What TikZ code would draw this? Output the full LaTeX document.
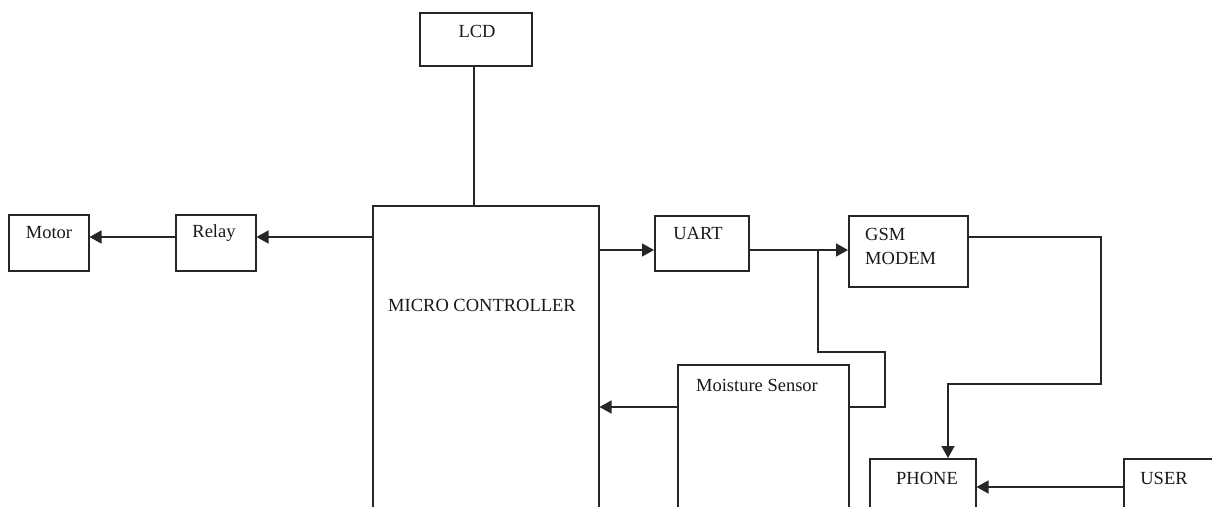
\documentclass[tikz,border=0pt]{standalone}
\usepackage{fontspec}
\setmainfont{Liberation Serif}
\usetikzlibrary{arrows.meta}
\begin{document}
\begin{tikzpicture}[x=1pt,y=-1pt,
  box/.style={draw=black!85, line width=1.5pt, rectangle, inner sep=0pt, anchor=north west},
  lbl/.style={inner sep=0pt, font=\fontsize{18.5}{21}\selectfont, text=black!90},
  wire/.style={draw=black!85, line width=1.4pt},
  arr/.style={wire, -{Triangle[length=12pt,width=13pt]}}]
\useasboundingbox (0,0) rectangle (1212,506);
\clip (0,0) rectangle (1212,506);
\fill[white] (0,0) rectangle (1212,506);
% boxes
\node[box, minimum width=112pt, minimum height=53pt] (lcd) at (419,12) {};
\node[box, minimum width=226pt, minimum height=320pt] (mc) at (372,205) {};
\node[box, minimum width=80pt, minimum height=56pt] (relay) at (175,214) {};
\node[box, minimum width=80pt, minimum height=56pt] (motor) at (8,214) {};
\node[box, minimum width=94pt, minimum height=55pt] (uart) at (654,215) {};
\node[box, minimum width=119pt, minimum height=71pt] (gsm) at (848,215) {};
\node[box, minimum width=171pt, minimum height=160pt] (moist) at (677,364) {};
\node[box, minimum width=106pt, minimum height=80pt] (phone) at (869,458) {};
\node[box, minimum width=120pt, minimum height=80pt] (user) at (1123,458) {};
% labels
\node[lbl] (lcdt) at (477,31) {LCD};
\node[lbl] (mct) at (482,305) {MICRO CONTROLLER};
\node[lbl] (relayt) at (214,233) {Relay};
\node[lbl] (motort) at (49,233) {Motor};
\node[lbl] (uartt) at (698,233) {UART};
\node[lbl, anchor=west] (gsmt1) at (865,234) {GSM};
\node[lbl, anchor=west] (gsmt2) at (865,258) {MODEM};
\node[lbl] (moistt) at (757,385) {Moisture Sensor};
\node[lbl] (phonet) at (927,478) {PHONE};
\node[lbl] (usert) at (1164,478) {USER};
% routing points
\coordinate (br) at (818,250);
\coordinate (g1) at (1101,237);
\coordinate (g2) at (948,384);
% connectors
\draw[wire] (lcd.south -| 474,0) -- (mc.north -| 474,0);
\draw[arr] (mc.west |- 0,237) -- (relay.east |- 0,237);
\draw[arr] (relay.west |- 0,237) -- (motor.east |- 0,237);
\draw[arr] (mc.east |- 0,250) -- (uart.west |- 0,250);
\draw[arr] (uart.east |- 0,250) -- (gsm.west |- 0,250);
\draw[wire] (br) -- (818,352) -- (885,352) -- (885,407) -- (moist.east |- 0,407);
\draw[arr] (moist.west |- 0,407) -- (mc.east |- 0,407);
\draw[arr] (gsm.east |- g1) -- (g1) |- (g2) -- (phone.north -| g2);
\draw[arr] (user.west |- 0,487) -- (phone.east |- 0,487);
\end{tikzpicture}
\end{document}
